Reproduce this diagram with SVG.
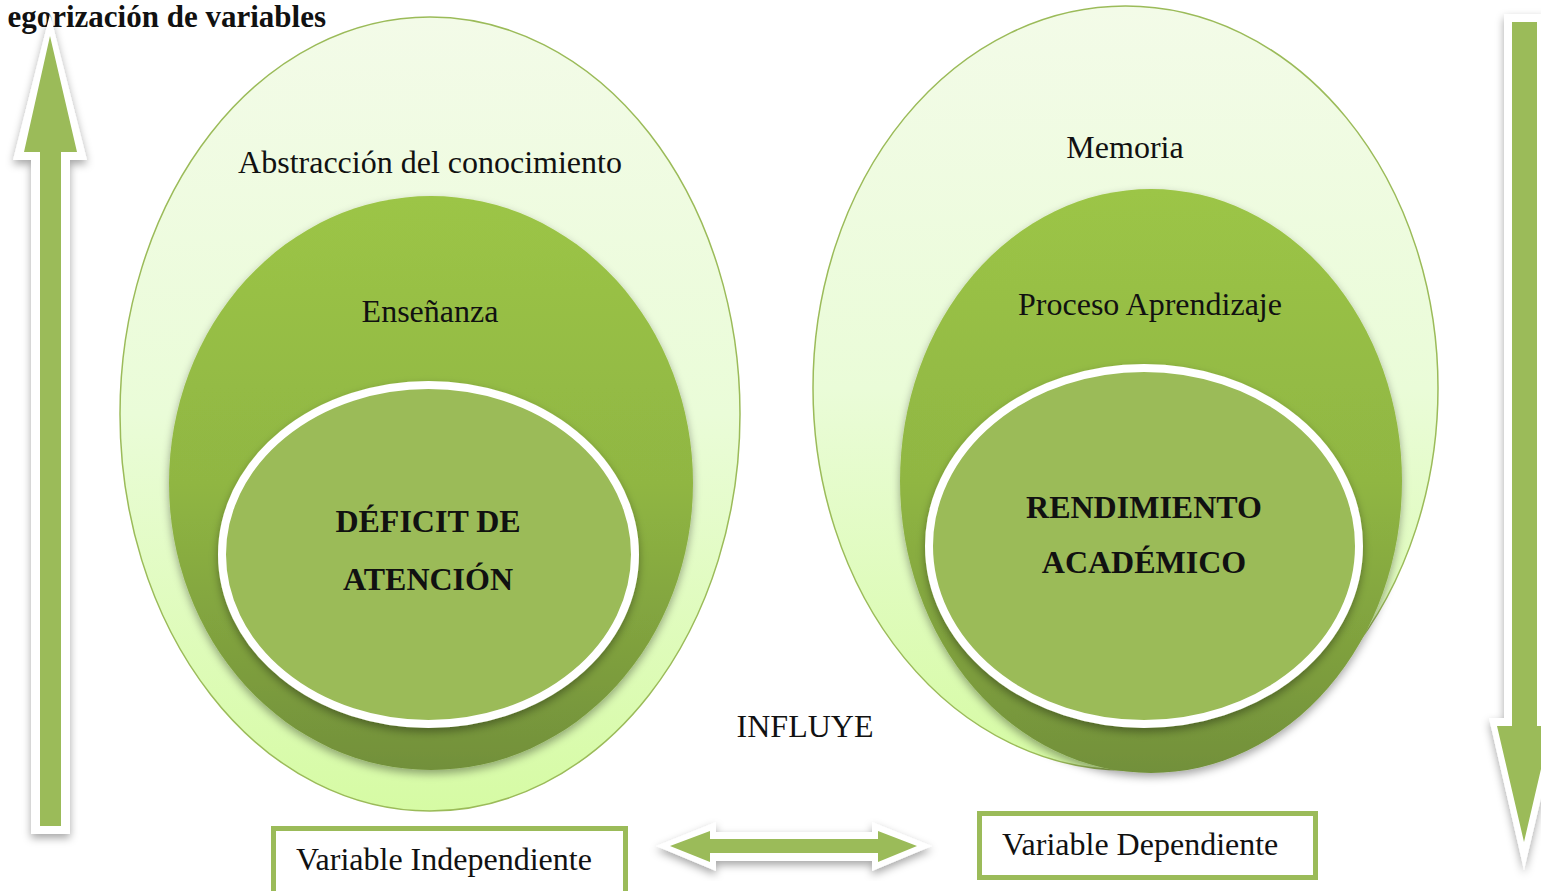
<svg xmlns="http://www.w3.org/2000/svg" width="1541" height="891" viewBox="0 0 1541 891">
<defs>
<linearGradient id="outerG" x1="0" y1="0" x2="0" y2="1">
<stop offset="0" stop-color="#f3fbe8"/>
<stop offset="0.5" stop-color="#eafcd8"/>
<stop offset="1" stop-color="#d6fba4"/>
</linearGradient>
<linearGradient id="midG" x1="0" y1="0" x2="0" y2="1">
<stop offset="0" stop-color="#9cc546"/>
<stop offset="0.5" stop-color="#90b643"/>
<stop offset="1" stop-color="#72903a"/>
</linearGradient>
<filter id="sh" x="-20%" y="-20%" width="140%" height="140%">
<feDropShadow dx="0" dy="4" stdDeviation="4" flood-color="#000" flood-opacity="0.35"/>
</filter>
</defs>
<style>
.outer{fill:url(#outerG);stroke:#9bbb59;stroke-width:1.5}
.mid{fill:url(#midG);filter:url(#sh)}
.inner{fill:#9bbb59;stroke:#ffffff;stroke-width:8;filter:url(#sh)}
.t{font-family:"Liberation Serif","Times New Roman",serif;font-size:32px;fill:#111}
.b{font-weight:bold}
.ttl{font-size:31px}
.box{fill:#ffffff;stroke:#9bbb59;stroke-width:5}
.aw{fill:#ffffff;filter:url(#sh)}
.ag{fill:#9bbb59}
</style>
<rect width="1541" height="891" fill="#ffffff"/>
<text class="t b ttl" x="326" y="27" text-anchor="end">egorización de variables</text>
<g id="connectors">
<g id="arrow-up">
<path class="aw" d="M50,14 L87,160 L70,160 L70,834 L31,834 L31,160 L13,160 Z"/>
<path class="ag" d="M50,36 L77,152 L61,152 L61,826 L40,826 L40,152 L24,152 Z"/>
</g>
<g id="arrow-down">
<path class="aw" d="M1504,14 L1545,14 L1545,718 L1560,718 L1524,870 L1489,718 L1504,718 Z"/>
<path class="ag" d="M1512,22 L1537,22 L1537,726 L1551,726 L1524,842 L1497,726 L1512,726 Z"/>
</g>
<g id="arrow-both">
<path class="aw" d="M656,846 L716,822 L716,832 L872,832 L872,822 L932,846 L872,871 L872,861 L716,861 L716,871 Z"/>
<path class="ag" d="M670,846 L710,831 L710,839 L878,839 L878,831 L917,846 L878,862 L878,853 L710,853 L710,862 Z"/>
</g>
</g>
<g id="left-set">
<ellipse class="outer" cx="430" cy="414" rx="310" ry="397"/>
<text class="t" x="430" y="173" text-anchor="middle">Abstracción del conocimiento</text>
<ellipse class="mid" cx="431" cy="483" rx="262" ry="287"/>
<text class="t" x="430" y="322" text-anchor="middle">Enseñanza</text>
<ellipse class="inner" cx="428.5" cy="554.5" rx="206.5" ry="169.5"/>
<text class="t b" x="428" y="532" text-anchor="middle">DÉFICIT DE</text>
<text class="t b" x="428" y="590" text-anchor="middle">ATENCIÓN</text>
</g>
<g id="right-set">
<ellipse class="outer" cx="1125.5" cy="388" rx="312.5" ry="382"/>
<text class="t" x="1125" y="158" text-anchor="middle">Memoria</text>
<ellipse class="mid" cx="1151" cy="481" rx="251" ry="292"/>
<text class="t" x="1150" y="315" text-anchor="middle">Proceso Aprendizaje</text>
<ellipse class="inner" cx="1144" cy="546" rx="215" ry="178"/>
<text class="t b" x="1144" y="518" text-anchor="middle">RENDIMIENTO</text>
<text class="t b" x="1144" y="573" text-anchor="middle">ACADÉMICO</text>
</g>
<g id="influye">
<text class="t" x="805" y="737" text-anchor="middle">INFLUYE</text>
</g>
<g id="box-independiente">
<rect class="box" x="273.5" y="828.5" width="352" height="70"/>
<text class="t" x="296" y="870">Variable Independiente</text>
</g>
<g id="box-dependiente">
<rect class="box" x="979.5" y="813.5" width="336" height="64"/>
<text class="t" x="1002" y="855">Variable Dependiente</text>
</g>
</svg>
